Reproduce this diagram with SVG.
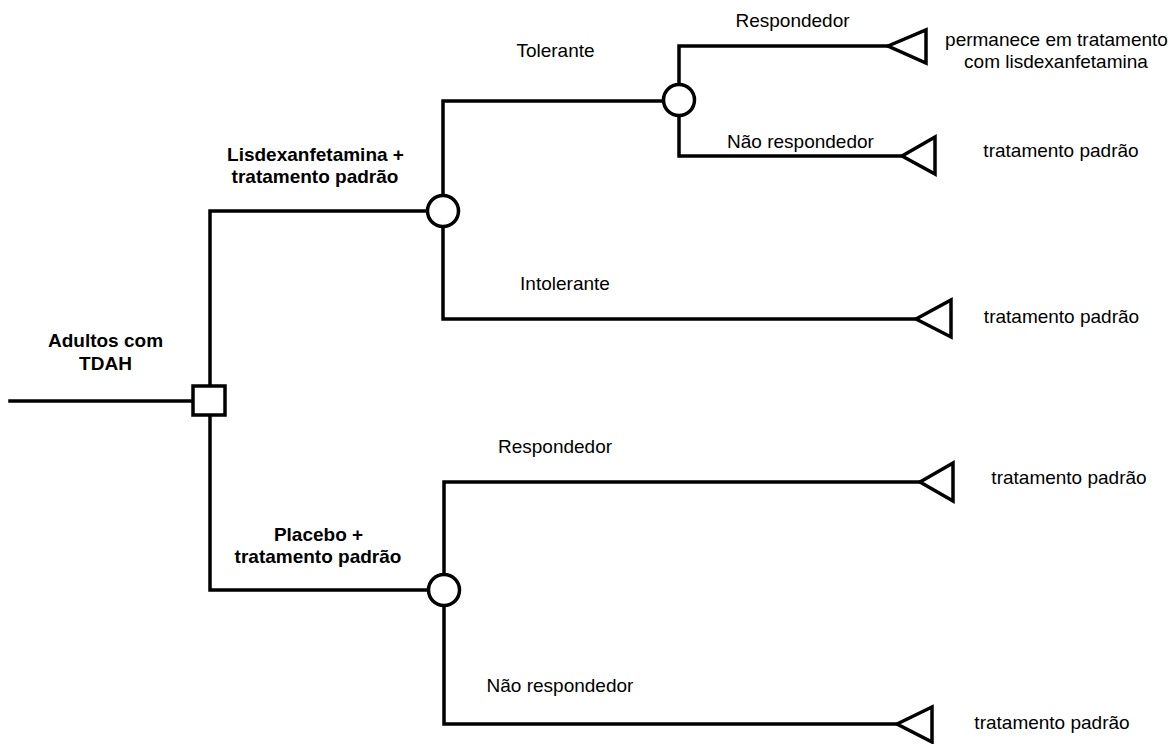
<svg xmlns="http://www.w3.org/2000/svg" width="1175" height="744" viewBox="0 0 1175 744">
<style>
  .ln{fill:none;stroke:#000;stroke-width:3.5;stroke-linejoin:miter;stroke-linecap:square}
  .nd{fill:#fff;stroke:#000;stroke-width:3.5}
  .t{font-family:"Liberation Sans",Arial,sans-serif;font-size:19px;fill:#000;text-anchor:middle}
  .b{font-weight:bold}
</style>
<rect width="1175" height="744" fill="#fff"/>
<g id="connectors">
  <path class="ln" d="M10 401 H193"/>
  <path class="ln" d="M210 386 V211 H428"/>
  <path class="ln" d="M210 415 V590 H429"/>
  <path class="ln" d="M443 195 V101 H664"/>
  <path class="ln" d="M443 226 V319 H916"/>
  <path class="ln" d="M679 85 V46 H888"/>
  <path class="ln" d="M679 115 V156 H902"/>
  <path class="ln" d="M444 575 V482 H920"/>
  <path class="ln" d="M444 606 V724 H897"/>
</g>
<g id="branch-labels">
  <text class="t" x="792.5" y="27">Respondedor</text>
  <text class="t" x="555.5" y="57">Tolerante</text>
  <text class="t" x="800.5" y="148">Não respondedor</text>
  <text class="t" x="565" y="290">Intolerante</text>
  <text class="t b" x="315.5" y="161">Lisdexanfetamina +</text>
  <text class="t b" x="315" y="183">tratamento padrão</text>
  <text class="t b" x="318.5" y="541">Placebo +</text>
  <text class="t b" x="318" y="563">tratamento padrão</text>
  <text class="t" x="555" y="453">Respondedor</text>
  <text class="t" x="560" y="692">Não respondedor</text>
</g>
<g id="root">
  <text class="t b" x="105.5" y="347">Adultos com</text>
  <text class="t b" x="105.5" y="370">TDAH</text>
</g>
<g id="decision">
  <rect class="nd" x="193" y="386" width="32" height="29"/>
</g>
<g id="chance-lisdex">
  <circle class="nd" cx="443" cy="211" r="15.5"/>
</g>
<g id="chance-tolerante">
  <circle class="nd" cx="679" cy="100" r="15.5"/>
</g>
<g id="chance-placebo">
  <circle class="nd" cx="444" cy="590" r="15.5"/>
</g>
<g id="term-resp-lisdex">
  <polygon class="nd" points="888,46 926,30 926,63"/>
  <text class="t" x="1056.5" y="46">permanece em tratamento</text>
  <text class="t" x="1056" y="68">com lisdexanfetamina</text>
</g>
<g id="term-naoresp-lisdex">
  <polygon class="nd" points="902,156 935,137 935,174"/>
  <text class="t" x="1061" y="157">tratamento padrão</text>
</g>
<g id="term-intolerante">
  <polygon class="nd" points="916,319 951,300 951,337"/>
  <text class="t" x="1061.5" y="323">tratamento padrão</text>
</g>
<g id="term-resp-placebo">
  <polygon class="nd" points="920,482 953,463 953,501"/>
  <text class="t" x="1069" y="484">tratamento padrão</text>
</g>
<g id="term-naoresp-placebo">
  <polygon class="nd" points="897,724 932,707 932,742"/>
  <text class="t" x="1052" y="729">tratamento padrão</text>
</g>
</svg>
